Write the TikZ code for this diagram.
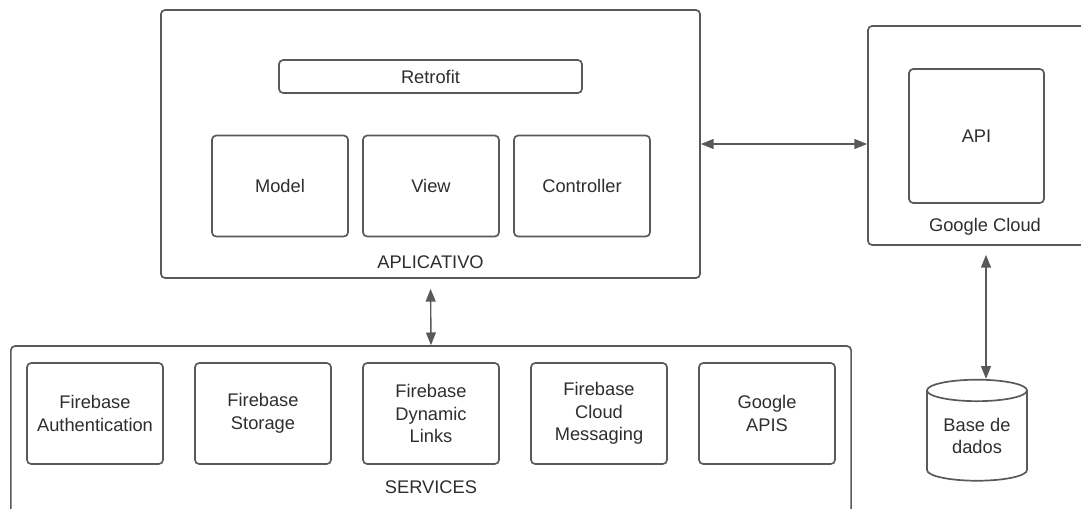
\documentclass[tikz,border=0pt]{standalone}
\usepackage{fontspec}
\setmainfont{Liberation Sans}
\usetikzlibrary{shapes.geometric,arrows.meta}
\definecolor{edgegray}{HTML}{595959}
\definecolor{textgray}{HTML}{2e2e2e}
\tikzstyle{frame}=[draw=edgegray,line width=1.2pt,rounded corners=3pt,inner sep=0pt]
\tikzstyle{comp}=[frame,minimum width=3.4cm,minimum height=2.525cm,align=center,text=textgray]
\tikzstyle{tag}=[text=textgray]
\tikzstyle{link}=[<->,>={Triangle[length=9pt,width=7pt]},draw=edgegray,line width=1pt]

\begin{document}
\begin{tikzpicture}[x=0.025cm,y=-0.025cm,font=\fontsize{13}{16}\selectfont]
\useasboundingbox (0,0) rectangle (1081,508);
% containers
\node[frame,minimum width=13.475cm,minimum height=6.7cm] at (430.5,144) (app) {};
\node[frame,minimum width=5.425cm,minimum height=5.475cm] at (976.5,135.5) (gcloud) {};
\node[frame,minimum width=21cm,minimum height=4.35cm] at (431,433) (services) {};
\node[tag] at (430.5,262) (applabel) {APLICATIVO};
\node[tag] at (985,227) (gcloudlabel) {Google Cloud};
\node[tag] at (431,487) (serviceslabel) {SERVICES};
% aplicativo
\node[frame,tag,minimum width=7.575cm,minimum height=0.825cm] at (430.5,76.5) (retrofit) {Retrofit};
\node[comp] at (280,186) (model) {Model};
\node[comp] at (431,186) (view) {View};
\node[comp] at (582,186) (controller) {Controller};
% google cloud
\node[comp,minimum width=3.375cm,minimum height=3.35cm] at (976.5,136) (api) {API};
\node[cylinder,shape border rotate=90,aspect=0.32,draw=edgegray,line width=1.2pt,text=textgray,align=center,minimum width=2.5cm,minimum height=2.525cm,inner sep=0pt] at (977,436) (db) {Base de\\dados};
% services
\node[comp] at (95,413.5) (auth) {Firebase\\Authentication};
\node[comp] at (263,413.5) (storage) {Firebase\\Storage};
\node[comp] at (431,413.5) (links) {Firebase\\Dynamic\\Links};
\node[comp] at (599,413.5) (messaging) {Firebase\\Cloud\\Messaging};
\node[comp] at (767,413.5) (gapis) {Google\\APIS};
% links
\draw[link] (app.east) -- (gcloud.west |- app.east);
\draw[link,shorten <=0.25cm] (app.south) -- (services.north);
\draw[link,shorten <=0.225cm] ([xshift=0.225cm]db.north |- gcloud.south) -- ([xshift=0.225cm]db.north);
\end{tikzpicture}
\end{document}
